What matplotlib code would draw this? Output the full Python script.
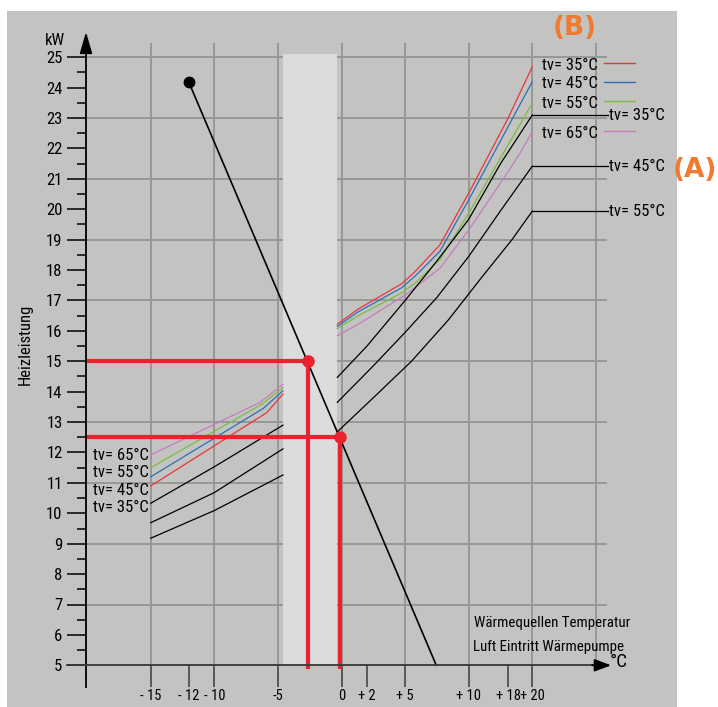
import os
import matplotlib
matplotlib.use('Agg')
import matplotlib.pyplot as plt
from matplotlib import font_manager
from matplotlib.font_manager import FontProperties
from matplotlib.textpath import TextPath
from matplotlib.patches import Rectangle

# ---------------- data ----------------
red_left_T = [-15, -10, -5.88, -4.6]
red_left_kw = [10.90, 12.22, 13.31, 13.92]
red_right_T = [-0.33, 1.32, 4.73, 5.78, 7.74, 10, 13.1, 15]
red_right_kw = [16.22, 16.72, 17.55, 17.95, 18.83, 20.53, 23.0, 24.69]

blue_left_T = [-15, -6.15, -4.6]
blue_left_kw = [11.20, 13.45, 14.03]
blue_right_T = [-0.33, 1.32, 4.73, 5.78, 7.74, 10, 13.1, 15]
blue_right_kw = [16.15, 16.63, 17.42, 17.80, 18.62, 20.31, 22.72, 24.2]

green_left_T = [-15, -6.27, -4.6]
green_left_kw = [11.50, 13.59, 14.13]
green_right_T = [-0.33, 1.32, 4.73, 5.78, 7.74, 10, 13.1, 15]
green_right_kw = [16.08, 16.50, 17.25, 17.57, 18.35, 19.87, 22.12, 23.49]

pink_left_T = [-15, -6.41, -4.6]
pink_left_kw = [11.92, 13.65, 14.24]
pink_right_T = [-0.33, 1.32, 5.0, 7.74, 10, 13.1, 14.03, 15]
pink_right_kw = [15.84, 16.22, 17.18, 18.06, 19.32, 21.24, 21.84, 22.55]

b35_left_T = [-15, -10, -4.6]
b35_left_kw = [10.33, 11.53, 12.90]
b35_right_T = [-0.33, 2.0, 5.0, 7.5, 10, 12.5, 15]
b35_right_kw = [14.47, 15.50, 17.0, 18.3, 19.67, 21.5, 23.1]

b45_left_T = [-15, -10, -4.6]
b45_left_kw = [9.69, 10.68, 12.12]
b45_right_T = [-0.33, 2.5, 5.0, 7.5, 10, 12.5, 15]
b45_right_kw = [13.65, 14.85, 15.95, 17.1, 18.45, 19.95, 21.42]

b55_left_T = [-15, -10, -4.6]
b55_left_kw = [9.18, 10.09, 11.26]
b55_right_T = [-0.33, 2.5, 5.5, 8.4, 11.0, 13.4, 15]
b55_right_kw = [12.68, 13.8, 15.0, 16.36, 17.75, 19.0, 19.94]

demand_T = [-12, 7.45]
demand_kw = [24.18, 5.0]

op_T = [-2.67, -0.12]
op_kw = [15.0, 12.5]

band_T = [-4.58, -0.38]
band_top = 25.1

xtick_pos = [-15, -12, -10, -5, 0, 2, 5, 10, 13.1, 15]
xtick_labels = ['- 15', '- 12', '- 10', '-5', '0', '+ 2', '+ 5', '+ 10', '+ 18', '+ 20']
ytick_pos = list(range(5, 26))
grid_kw = [7, 9, 11, 13, 15, 17, 19, 21, 23, 25]
grid_T = [-15, -10, -5, 0, 5, 10, 15, 20]

legend_B = ['tv= 35°C', 'tv= 45°C', 'tv= 55°C', 'tv= 65°C']
labels_A = ['tv= 35°C', 'tv= 45°C', 'tv= 55°C']
labels_left = ['tv= 65°C', 'tv= 55°C', 'tv= 45°C', 'tv= 35°C']

RED = '#e8353c'
BLUE = '#2e6fb8'
GREEN = '#7bbd3f'
PINK = '#c87bc0'
OPRED = '#e8232d'
ORANGE = '#ef7a30'

# ---------------- fonts: pick the sans whose proportions best fit a narrow Arial ----------------
wanted = ['liberationsansnarrow-regular.ttf', 'notosans-condensed.ttf', 'notosans-semicondensed.ttf',
          'robotocondensed-regular.ttf', 'opensans-condensedregular.ttf', 'notosans-extracondensed.ttf',
          'liberationsans-regular.ttf']
files = {}
for f in font_manager.fontManager.ttflist:
    files.setdefault(os.path.basename(f.fname).lower(), f.fname)

TARGET_RATIO = 4.35   # width of 'tv= 35°C' / cap height, as in the picture
best, best_err, best_cap = None, 1e9, 0.716
for w in wanted:
    if w not in files:
        continue
    try:
        prop = FontProperties(fname=files[w], size=100)
        wid = TextPath((0, 0), 'tv= 35°C', prop=prop).get_extents().width
        cap = TextPath((0, 0), 'H', prop=prop).get_extents().height
        r = wid / cap
        err = abs(r - TARGET_RATIO)
        if err < best_err:
            best, best_err, best_cap = files[w], err, cap / 100.0
    except Exception:
        pass

plt.rcParams['font.family'] = ['Liberation Sans', 'DejaVu Sans']
CAP_PX = 11.8
if best:
    FS = CAP_PX / best_cap * 0.72
    def fp(size):
        return FontProperties(fname=best, size=size)
else:
    FS = 10.5
    def fp(size):
        return FontProperties(family=['Liberation Sans', 'DejaVu Sans'], size=size)

# width-limited size for the crowded x tick labels (+ 18 / + 20 are 24 px apart)
try:
    w18 = TextPath((0, 0), '+ 18', prop=fp(100)).get_extents().width / 100 * (100 / 72)
    FSX = min(FS, 23.5 / w18)
except Exception:
    FSX = FS

# width-limited size for the source temperature caption (about 155 px wide)
try:
    wcap = TextPath((0, 0), 'Wärmequellen Temperatur', prop=fp(100)).get_extents().width / 100 * (100 / 72)
    FSC = min(FS, 155 / wcap)
except Exception:
    FSC = FS

# ---------------- figure ----------------
W, H, DPI = 718, 707, 100
fig = plt.figure(figsize=(W / DPI, H / DPI), dpi=DPI)
fig.patch.set_facecolor('white')
ax = fig.add_axes([0, 0, 1, 1])
ax.set_facecolor('none')

X0PX, XS = 341.5, 12.72
Y25PX, YS = 57.3, 30.4


def tx(px):
    return (px - X0PX) / XS


def ky(py):
    return 25 - (py - Y25PX) / YS


ax.set_xlim(tx(0), tx(W))
ax.set_ylim(ky(H), ky(0))

ax.add_patch(Rectangle((7 / W, 0), 670 / W, 696 / H, transform=ax.transAxes,
                       facecolor='#c3c3c1', edgecolor='none', zorder=0))

GRID = '#959895'
ax.hlines(grid_kw + [5], tx(86), tx(607), color=GRID, lw=1.4, zorder=1)
ax.vlines(grid_T, 5, ky(43), color=GRID, lw=1.4, zorder=1)

ax.add_patch(Rectangle((band_T[0], 5), band_T[1] - band_T[0], band_top - 5,
                       facecolor='#dcdcdc', edgecolor='none', zorder=2))

for T, k, c in [(red_left_T, red_left_kw, RED), (red_right_T, red_right_kw, RED),
                (blue_left_T, blue_left_kw, BLUE), (blue_right_T, blue_right_kw, BLUE),
                (green_left_T, green_left_kw, GREEN), (green_right_T, green_right_kw, GREEN),
                (pink_left_T, pink_left_kw, PINK), (pink_right_T, pink_right_kw, PINK)]:
    ax.plot(T, k, color=c, lw=0.9, zorder=4)

blacks = [(b35_left_T, b35_left_kw, b35_right_T, b35_right_kw),
          (b45_left_T, b45_left_kw, b45_right_T, b45_right_kw),
          (b55_left_T, b55_left_kw, b55_right_T, b55_right_kw)]
for (lt, lk, rt, rk), lab in zip(blacks, labels_A):
    ax.plot(lt, lk, color='black', lw=0.9, zorder=4)
    ax.plot(rt, rk, color='black', lw=0.9, zorder=4)
    ax.plot([rt[-1], tx(608)], [rk[-1], rk[-1]], color='black', lw=0.9, zorder=4)
    ax.text(tx(609), rk[-1], lab, fontproperties=fp(FS), va='center', ha='left', zorder=6)

ax.plot(demand_T, demand_kw, color='black', lw=1.2, zorder=5)
ax.plot(demand_T[0], demand_kw[0], 'o', color='black', ms=7.5, zorder=6)

below = ky(669)
for t, k in zip(op_T, op_kw):
    ax.plot([tx(86), t], [k, k], color=OPRED, lw=3.0, zorder=5, solid_capstyle='butt')
    ax.plot([t, t], [k, below], color=OPRED, lw=3.0, zorder=5, solid_capstyle='butt', clip_on=False)
    ax.plot(t, k, 'o', color=OPRED, ms=8, zorder=6)

for s in ['top', 'right']:
    ax.spines[s].set_visible(False)
ax.spines['left'].set_position(('data', tx(86)))
ax.spines['bottom'].set_position(('data', 5))
ax.spines['left'].set_bounds(ky(687), ky(48))
ax.spines['bottom'].set_bounds(tx(66.6), tx(598))
ax.spines['left'].set_linewidth(1.3)
ax.spines['bottom'].set_linewidth(1.3)
ax.spines['bottom'].set_color('#3a3a3a')
ax.spines['left'].set_zorder(7)
ax.spines['bottom'].set_zorder(7)

ax.set_yticks(ytick_pos)
ax.set_yticks([v + 0.5 for v in ytick_pos[:-1]], minor=True)
ax.tick_params(axis='y', which='major', direction='out', length=13.7, width=1.1,
               pad=3.2, colors='black')
ax.tick_params(axis='y', which='minor', direction='out', length=6.5, width=1.1)
ax.set_xticks(xtick_pos, xtick_labels)
ax.tick_params(axis='x', which='major', direction='out', length=15.8, width=1.1,
               pad=1.5, color='#3a3a3a')
for lbl in ax.get_yticklabels():
    lbl.set_fontproperties(fp(FS))
for lbl in ax.get_xticklabels():
    lbl.set_fontproperties(fp(FSX))

ax.annotate('', xy=(tx(86), ky(32)), xytext=(tx(86), ky(52)),
            arrowprops=dict(arrowstyle='-|>,head_length=1.3,head_width=0.38',
                            color='black', lw=1.3, shrinkA=0, shrinkB=0), zorder=8)
ax.annotate('', xy=(tx(611), 5), xytext=(tx(592), 5),
            arrowprops=dict(arrowstyle='-|>,head_length=1.0,head_width=0.38',
                            color='black', lw=1.3, shrinkA=0, shrinkB=0), zorder=8)

ax.text(tx(55), ky(41), 'kW', fontproperties=fp(FS), ha='center', va='center')
ax.text(tx(619), ky(662), '°C', fontproperties=fp(FS * 1.15), ha='center', va='center')
ax.text(tx(25), ky(344), 'Heizleistung', fontproperties=fp(FS), rotation=90, ha='center', va='center')
ax.text(tx(474), ky(623), 'Wärmequellen Temperatur', fontproperties=fp(FSC), ha='left', va='center')
ax.text(tx(473), ky(647), 'Luft Eintritt Wärmepumpe', fontproperties=fp(FSC), ha='left', va='center')

leg_y = [63, 82, 101, 131]
for lab, c, py in zip(legend_B, [RED, BLUE, GREEN, PINK], leg_y):
    ax.text(tx(542), ky(py + 2), lab, fontproperties=fp(FS), ha='left', va='center', zorder=6)
    ax.plot([tx(604), tx(635)], [ky(py), ky(py)], color=c, lw=1.0, zorder=6, clip_on=False)

for lab, py in zip(labels_left, [455.5, 472.5, 491, 507.5]):
    ax.text(tx(93), ky(py), lab, fontproperties=fp(FS), ha='left', va='center', zorder=6)

ax.text(tx(575), ky(28), '(B)', fontsize=19, fontweight='bold', color=ORANGE,
        family='DejaVu Sans', ha='center', va='center')
ax.text(tx(695), ky(170), '(A)', fontsize=19, fontweight='bold', color=ORANGE,
        family='DejaVu Sans', ha='center', va='center')

fig.savefig('out.png', dpi=DPI, facecolor='white')
